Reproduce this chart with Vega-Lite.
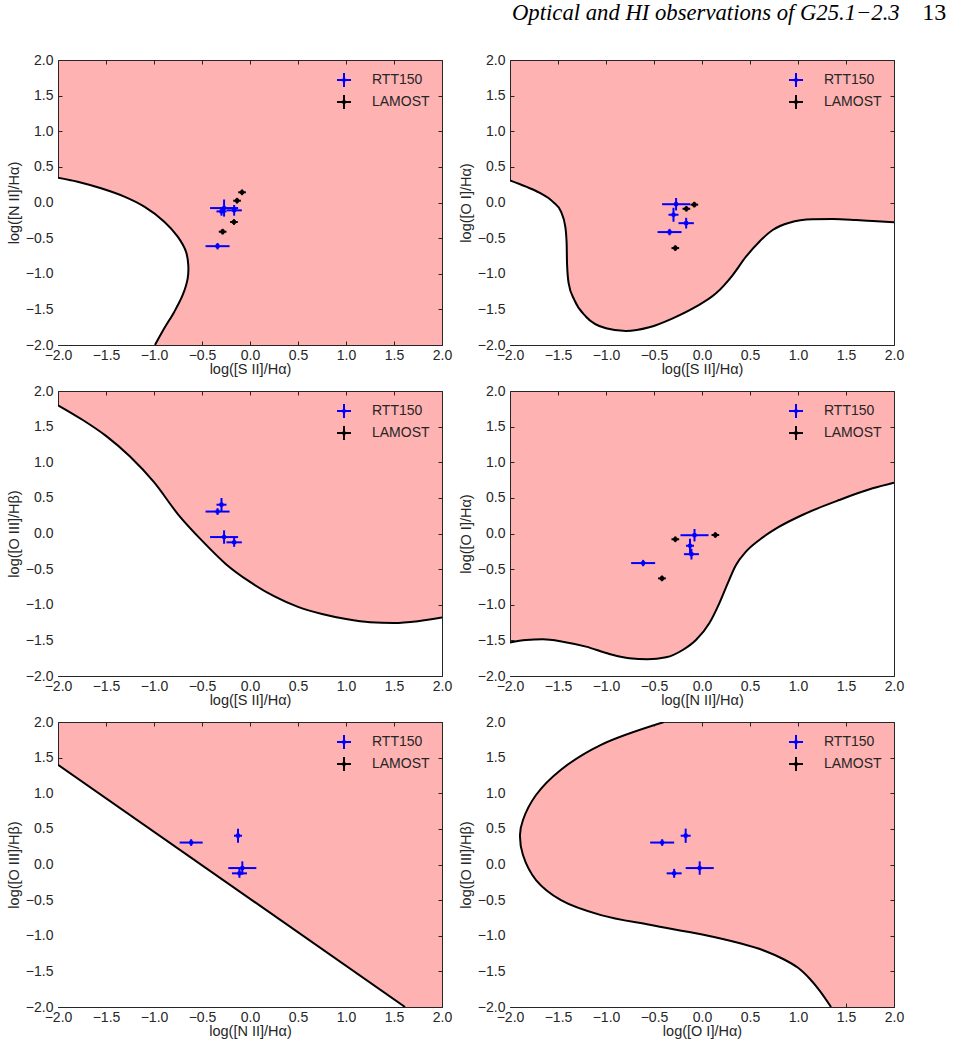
{
"$schema": "https://vega.github.io/schema/vega-lite/v6.json",
"padding": {"left": 5, "top": 0, "right": 5, "bottom": 5},
"title": {"text": "13", "anchor": "end", "font": "Liberation Serif", "fontSize": 24, "fontWeight": "normal", "fontStyle": "normal", "color": "black", "dx": 42, "dy": 23, "offset": 0},
"datasets": {
"pts": [
{"panel":1,"survey":"RTT150","x":-0.297,"y":-0.125,"xlo":-0.349,"xhi":-0.245,"ylo":-0.185,"yhi":-0.065},
{"panel":1,"survey":"RTT150","x":-0.338,"y":-0.613,"xlo":-0.463,"xhi":-0.213,"ylo":-0.658,"yhi":-0.568},
{"panel":1,"survey":"RTT150","x":-0.270,"y":-0.078,"xlo":-0.416,"xhi":-0.124,"ylo":-0.198,"yhi":0.042},
{"panel":1,"survey":"RTT150","x":-0.165,"y":-0.110,"xlo":-0.245,"xhi":-0.085,"ylo":-0.185,"yhi":-0.035},
{"panel":1,"survey":"LAMOST","x":-0.083,"y":0.143,"xlo":-0.123,"xhi":-0.043,"ylo":0.103,"yhi":0.183},
{"panel":1,"survey":"LAMOST","x":-0.135,"y":0.025,"xlo":-0.175,"xhi":-0.095,"ylo":-0.015,"yhi":0.065},
{"panel":1,"survey":"LAMOST","x":-0.167,"y":-0.274,"xlo":-0.207,"xhi":-0.127,"ylo":-0.314,"yhi":-0.234},
{"panel":1,"survey":"LAMOST","x":-0.285,"y":-0.410,"xlo":-0.325,"xhi":-0.245,"ylo":-0.450,"yhi":-0.370},
{"panel":2,"survey":"RTT150","x":-0.297,"y":-0.172,"xlo":-0.349,"xhi":-0.245,"ylo":-0.270,"yhi":-0.074},
{"panel":2,"survey":"RTT150","x":-0.338,"y":-0.415,"xlo":-0.463,"xhi":-0.213,"ylo":-0.460,"yhi":-0.370},
{"panel":2,"survey":"RTT150","x":-0.270,"y":-0.024,"xlo":-0.416,"xhi":-0.124,"ylo":-0.111,"yhi":0.063},
{"panel":2,"survey":"RTT150","x":-0.165,"y":-0.290,"xlo":-0.245,"xhi":-0.085,"ylo":-0.365,"yhi":-0.215},
{"panel":2,"survey":"LAMOST","x":-0.080,"y":-0.030,"xlo":-0.120,"xhi":-0.040,"ylo":-0.070,"yhi":0.010},
{"panel":2,"survey":"LAMOST","x":-0.163,"y":-0.088,"xlo":-0.203,"xhi":-0.123,"ylo":-0.128,"yhi":-0.048},
{"panel":2,"survey":"LAMOST","x":-0.278,"y":-0.640,"xlo":-0.318,"xhi":-0.238,"ylo":-0.680,"yhi":-0.600},
{"panel":3,"survey":"RTT150","x":-0.297,"y":0.404,"xlo":-0.349,"xhi":-0.245,"ylo":0.310,"yhi":0.498},
{"panel":3,"survey":"RTT150","x":-0.338,"y":0.308,"xlo":-0.463,"xhi":-0.213,"ylo":0.261,"yhi":0.355},
{"panel":3,"survey":"RTT150","x":-0.270,"y":-0.050,"xlo":-0.416,"xhi":-0.124,"ylo":-0.144,"yhi":0.044},
{"panel":3,"survey":"RTT150","x":-0.165,"y":-0.124,"xlo":-0.245,"xhi":-0.085,"ylo":-0.187,"yhi":-0.061},
{"panel":4,"survey":"RTT150","x":-0.125,"y":-0.172,"xlo":-0.167,"xhi":-0.083,"ylo":-0.272,"yhi":-0.072},
{"panel":4,"survey":"RTT150","x":-0.613,"y":-0.415,"xlo":-0.738,"xhi":-0.488,"ylo":-0.460,"yhi":-0.370},
{"panel":4,"survey":"RTT150","x":-0.078,"y":-0.024,"xlo":-0.224,"xhi":0.068,"ylo":-0.111,"yhi":0.063},
{"panel":4,"survey":"RTT150","x":-0.110,"y":-0.290,"xlo":-0.188,"xhi":-0.032,"ylo":-0.365,"yhi":-0.215},
{"panel":4,"survey":"LAMOST","x":0.139,"y":-0.021,"xlo":0.099,"xhi":0.179,"ylo":-0.061,"yhi":0.019},
{"panel":4,"survey":"LAMOST","x":-0.278,"y":-0.081,"xlo":-0.318,"xhi":-0.238,"ylo":-0.121,"yhi":-0.041},
{"panel":4,"survey":"LAMOST","x":-0.417,"y":-0.630,"xlo":-0.457,"xhi":-0.377,"ylo":-0.670,"yhi":-0.590},
{"panel":5,"survey":"RTT150","x":-0.125,"y":0.404,"xlo":-0.167,"xhi":-0.083,"ylo":0.306,"yhi":0.502},
{"panel":5,"survey":"RTT150","x":-0.613,"y":0.308,"xlo":-0.733,"xhi":-0.493,"ylo":0.261,"yhi":0.355},
{"panel":5,"survey":"RTT150","x":-0.080,"y":-0.050,"xlo":-0.226,"xhi":0.066,"ylo":-0.144,"yhi":0.044},
{"panel":5,"survey":"RTT150","x":-0.110,"y":-0.124,"xlo":-0.188,"xhi":-0.032,"ylo":-0.187,"yhi":-0.061},
{"panel":6,"survey":"RTT150","x":-0.170,"y":0.404,"xlo":-0.222,"xhi":-0.118,"ylo":0.304,"yhi":0.504},
{"panel":6,"survey":"RTT150","x":-0.415,"y":0.308,"xlo":-0.540,"xhi":-0.290,"ylo":0.261,"yhi":0.355},
{"panel":6,"survey":"RTT150","x":-0.024,"y":-0.050,"xlo":-0.170,"xhi":0.122,"ylo":-0.144,"yhi":0.044},
{"panel":6,"survey":"RTT150","x":-0.290,"y":-0.124,"xlo":-0.368,"xhi":-0.212,"ylo":-0.187,"yhi":-0.061}
],
"curves": [
{"panel":1,"i":0,"x":-2.0,"y":0.348},{"panel":1,"i":1,"x":-1.795,"y":0.292},{"panel":1,"i":2,"x":-1.552,"y":0.199},{"panel":1,"i":3,"x":-1.309,"y":0.082},{"panel":1,"i":4,"x":-1.101,"y":-0.059},{"panel":1,"i":5,"x":-0.893,"y":-0.269},{"panel":1,"i":6,"x":-0.753,"y":-0.48},{"panel":1,"i":7,"x":-0.667,"y":-0.69},{"panel":1,"i":8,"x":-0.643,"y":-0.877},{"panel":1,"i":9,"x":-0.649,"y":-1.064},{"panel":1,"i":10,"x":-0.701,"y":-1.298},{"panel":1,"i":11,"x":-0.788,"y":-1.532},{"panel":1,"i":12,"x":-0.893,"y":-1.766},{"panel":1,"i":13,"x":-0.99,"y":-2.0},
{"panel":2,"i":0,"x":-2.0,"y":0.31},{"panel":2,"i":1,"x":-1.833,"y":0.222},{"panel":2,"i":2,"x":-1.694,"y":0.138},{"panel":2,"i":3,"x":-1.555,"y":0.012},{"panel":2,"i":4,"x":-1.469,"y":-0.129},{"panel":2,"i":5,"x":-1.424,"y":-0.339},{"panel":2,"i":6,"x":-1.41,"y":-0.573},{"panel":2,"i":7,"x":-1.406,"y":-0.854},{"panel":2,"i":8,"x":-1.389,"y":-1.134},{"panel":2,"i":9,"x":-1.33,"y":-1.368},{"panel":2,"i":10,"x":-1.208,"y":-1.603},{"panel":2,"i":11,"x":-1.0,"y":-1.766},{"panel":2,"i":12,"x":-0.792,"y":-1.804},{"panel":2,"i":13,"x":-0.549,"y":-1.752},{"panel":2,"i":14,"x":-0.305,"y":-1.626},{"panel":2,"i":15,"x":-0.063,"y":-1.462},{"panel":2,"i":16,"x":0.146,"y":-1.275},{"panel":2,"i":17,"x":0.32,"y":-1.018},{"panel":2,"i":18,"x":0.458,"y":-0.761},{"panel":2,"i":19,"x":0.597,"y":-0.55},{"panel":2,"i":20,"x":0.736,"y":-0.386},{"panel":2,"i":21,"x":0.91,"y":-0.283},{"panel":2,"i":22,"x":1.153,"y":-0.236},{"panel":2,"i":23,"x":1.361,"y":-0.232},{"panel":2,"i":24,"x":1.604,"y":-0.246},{"panel":2,"i":25,"x":1.778,"y":-0.26},{"panel":2,"i":26,"x":2.0,"y":-0.278},
{"panel":3,"i":0,"x":-2.0,"y":1.8},{"panel":3,"i":1,"x":-1.75,"y":1.6},{"panel":3,"i":2,"x":-1.5,"y":1.37},{"panel":3,"i":3,"x":-1.25,"y":1.08},{"panel":3,"i":4,"x":-1.0,"y":0.72},{"panel":3,"i":5,"x":-0.75,"y":0.27},{"panel":3,"i":6,"x":-0.5,"y":-0.1},{"panel":3,"i":7,"x":-0.25,"y":-0.43},{"panel":3,"i":8,"x":0.0,"y":-0.68},{"panel":3,"i":9,"x":0.25,"y":-0.88},{"panel":3,"i":10,"x":0.5,"y":-1.03},{"panel":3,"i":11,"x":0.75,"y":-1.13},{"panel":3,"i":12,"x":1.0,"y":-1.2},{"panel":3,"i":13,"x":1.25,"y":-1.245},{"panel":3,"i":14,"x":1.5,"y":-1.255},{"panel":3,"i":15,"x":1.75,"y":-1.23},{"panel":3,"i":16,"x":2.0,"y":-1.18},
{"panel":4,"i":0,"x":-2.0,"y":-1.53},{"panel":4,"i":1,"x":-1.833,"y":-1.495},{"panel":4,"i":2,"x":-1.66,"y":-1.485},{"panel":4,"i":3,"x":-1.451,"y":-1.518},{"panel":4,"i":4,"x":-1.208,"y":-1.588},{"panel":4,"i":5,"x":-0.965,"y":-1.691},{"panel":4,"i":6,"x":-0.757,"y":-1.752},{"panel":4,"i":7,"x":-0.566,"y":-1.766},{"panel":4,"i":8,"x":-0.375,"y":-1.738},{"panel":4,"i":9,"x":-0.201,"y":-1.635},{"panel":4,"i":10,"x":-0.063,"y":-1.495},{"panel":4,"i":11,"x":0.076,"y":-1.26},{"panel":4,"i":12,"x":0.18,"y":-0.98},{"panel":4,"i":13,"x":0.268,"y":-0.699},{"panel":4,"i":14,"x":0.354,"y":-0.442},{"panel":4,"i":15,"x":0.458,"y":-0.255},{"panel":4,"i":16,"x":0.597,"y":-0.091},{"panel":4,"i":17,"x":0.805,"y":0.095},{"panel":4,"i":18,"x":1.083,"y":0.283},{"panel":4,"i":19,"x":1.43,"y":0.47},{"panel":4,"i":20,"x":1.778,"y":0.634},{"panel":4,"i":21,"x":2.0,"y":0.713},
{"panel":5,"i":0,"x":-2.0,"y":1.4},{"panel":5,"i":1,"x":1.615,"y":-2.0},
{"panel":6,"i":0,"x":-0.396,"y":2.0},{"panel":6,"i":1,"x":-1.052,"y":1.68},{"panel":6,"i":2,"x":-1.469,"y":1.33},{"panel":6,"i":3,"x":-1.729,"y":0.975},{"panel":6,"i":4,"x":-1.865,"y":0.625},{"panel":6,"i":5,"x":-1.896,"y":0.414},{"panel":6,"i":6,"x":-1.865,"y":0.133},{"panel":6,"i":7,"x":-1.729,"y":-0.218},{"panel":6,"i":8,"x":-1.469,"y":-0.5},{"panel":6,"i":9,"x":-1.052,"y":-0.71},{"panel":6,"i":10,"x":-0.531,"y":-0.85},{"panel":6,"i":11,"x":-0.01,"y":-0.98},{"panel":6,"i":12,"x":0.406,"y":-1.11},{"panel":6,"i":13,"x":0.65,"y":-1.21},{"panel":6,"i":14,"x":0.85,"y":-1.33},{"panel":6,"i":15,"x":1.0,"y":-1.45},{"panel":6,"i":16,"x":1.12,"y":-1.6},{"panel":6,"i":17,"x":1.225,"y":-1.77},{"panel":6,"i":18,"x":1.344,"y":-2.0}
]
},
"columns": 2,
"spacing": {"row": 46, "column": 68},
"bounds": "flush",
"resolve": {"scale": {"color": "independent"}, "legend": {"color": "independent"}},
"concat": [
{"width": 384, "height": 285,
 "resolve": {"axis": {"x": "independent", "y": "independent"}},
 "layer": [
  {"data": {"name": "curves"}, "transform": [{"filter": "datum.panel == 1"}], "mark": {"type": "area", "orient": "horizontal", "color": "white", "opacity": 1, "interpolate": "catmull-rom", "clip": true},
   "encoding": {"y": {"field": "y", "type": "quantitative", "scale": {"domain": [-2, 2], "nice": false, "zero": false}, "axis": {"orient": "left", "title": "log([N II]/Hα)", "values": [-2,-1.5,-1,-0.5,0,0.5,1,1.5,2], "format": ".1f"}},
    "x": {"field": "x", "type": "quantitative", "scale": {"domain": [-2, 2], "nice": false, "zero": false}, "axis": {"orient": "bottom", "title": "log([S II]/Hα)", "values": [-2,-1.5,-1,-0.5,0,0.5,1,1.5,2], "format": ".1f"}},
    "x2": {"datum": -2}}},
  {"data": {"name": "curves"}, "transform": [{"filter": "datum.panel == 1"}], "mark": {"type": "line", "color": "black", "strokeWidth": 2, "interpolate": "catmull-rom", "clip": true},
   "encoding": {"x": {"field": "x", "type": "quantitative", "axis": null}, "y": {"field": "y", "type": "quantitative", "axis": null}, "order": {"field": "i", "type": "quantitative"}}},
  {"data": {"name": "pts"}, "transform": [{"filter": "datum.panel == 1"}], "mark": {"type": "rule", "strokeWidth": 2},
   "encoding": {"x": {"field": "xlo", "type": "quantitative", "axis": null}, "x2": {"field": "xhi"}, "y": {"field": "y", "type": "quantitative", "axis": null},
    "color": {"field": "survey", "type": "nominal", "scale": {"domain": ["RTT150", "LAMOST"], "range": ["#0000ff", "#000000"]}, "legend": {"title": null}}}},
  {"data": {"name": "pts"}, "transform": [{"filter": "datum.panel == 1"}], "mark": {"type": "rule", "strokeWidth": 2},
   "encoding": {"x": {"field": "x", "type": "quantitative", "axis": null}, "y": {"field": "ylo", "type": "quantitative", "axis": null}, "y2": {"field": "yhi"},
    "color": {"field": "survey", "type": "nominal", "scale": {"domain": ["RTT150", "LAMOST"], "range": ["#0000ff", "#000000"]}, "legend": null}}},
  {"data": {"name": "pts"}, "transform": [{"filter": "datum.panel == 1"}], "mark": {"type": "point", "filled": true, "size": 22, "opacity": 1},
   "encoding": {"x": {"field": "x", "type": "quantitative", "axis": {"orient": "top", "labels": false, "title": null, "values": [-2,-1.5,-1,-0.5,0,0.5,1,1.5,2]}}, "y": {"field": "y", "type": "quantitative", "axis": {"orient": "right", "labels": false, "title": null, "values": [-2,-1.5,-1,-0.5,0,0.5,1,1.5,2]}},
    "color": {"field": "survey", "type": "nominal", "scale": {"domain": ["RTT150", "LAMOST"], "range": ["#0000ff", "#000000"]}, "legend": null}}}
 ]},
{"width": 384, "height": 285,
 "title": {"text": "Optical and HI observations of G25.1−2.3", "anchor": "end", "font": "Liberation Serif", "fontSize": 22.7, "fontStyle": "italic", "fontWeight": "normal", "color": "black", "offset": 28, "dx": -4},
 "resolve": {"axis": {"x": "independent", "y": "independent"}},
 "layer": [
  {"data": {"name": "curves"}, "transform": [{"filter": "datum.panel == 2"}], "mark": {"type": "area", "orient": "vertical", "color": "white", "opacity": 1, "interpolate": "monotone", "clip": true},
   "encoding": {"x": {"field": "x", "type": "quantitative", "scale": {"domain": [-2, 2], "nice": false, "zero": false}, "axis": {"orient": "bottom", "title": "log([S II]/Hα)", "values": [-2,-1.5,-1,-0.5,0,0.5,1,1.5,2], "format": ".1f"}},
    "y": {"field": "y", "type": "quantitative", "scale": {"domain": [-2, 2], "nice": false, "zero": false}, "axis": {"orient": "left", "title": "log([O I]/Hα)", "values": [-2,-1.5,-1,-0.5,0,0.5,1,1.5,2], "format": ".1f"}},
    "y2": {"datum": -2}}},
  {"data": {"name": "curves"}, "transform": [{"filter": "datum.panel == 2"}], "mark": {"type": "line", "color": "black", "strokeWidth": 2, "interpolate": "monotone", "clip": true},
   "encoding": {"x": {"field": "x", "type": "quantitative", "axis": null}, "y": {"field": "y", "type": "quantitative", "axis": null}, "order": {"field": "i", "type": "quantitative"}}},
  {"data": {"name": "pts"}, "transform": [{"filter": "datum.panel == 2"}], "mark": {"type": "rule", "strokeWidth": 2},
   "encoding": {"x": {"field": "xlo", "type": "quantitative", "axis": null}, "x2": {"field": "xhi"}, "y": {"field": "y", "type": "quantitative", "axis": null},
    "color": {"field": "survey", "type": "nominal", "scale": {"domain": ["RTT150", "LAMOST"], "range": ["#0000ff", "#000000"]}, "legend": {"title": null}}}},
  {"data": {"name": "pts"}, "transform": [{"filter": "datum.panel == 2"}], "mark": {"type": "rule", "strokeWidth": 2},
   "encoding": {"x": {"field": "x", "type": "quantitative", "axis": null}, "y": {"field": "ylo", "type": "quantitative", "axis": null}, "y2": {"field": "yhi"},
    "color": {"field": "survey", "type": "nominal", "scale": {"domain": ["RTT150", "LAMOST"], "range": ["#0000ff", "#000000"]}, "legend": null}}},
  {"data": {"name": "pts"}, "transform": [{"filter": "datum.panel == 2"}], "mark": {"type": "point", "filled": true, "size": 22, "opacity": 1},
   "encoding": {"x": {"field": "x", "type": "quantitative", "axis": {"orient": "top", "labels": false, "title": null, "values": [-2,-1.5,-1,-0.5,0,0.5,1,1.5,2]}}, "y": {"field": "y", "type": "quantitative", "axis": {"orient": "right", "labels": false, "title": null, "values": [-2,-1.5,-1,-0.5,0,0.5,1,1.5,2]}},
    "color": {"field": "survey", "type": "nominal", "scale": {"domain": ["RTT150", "LAMOST"], "range": ["#0000ff", "#000000"]}, "legend": null}}}
 ]},
{"width": 384, "height": 285,
 "resolve": {"axis": {"x": "independent", "y": "independent"}},
 "layer": [
  {"data": {"name": "curves"}, "transform": [{"filter": "datum.panel == 3"}], "mark": {"type": "area", "orient": "vertical", "color": "white", "opacity": 1, "interpolate": "monotone", "clip": true},
   "encoding": {"x": {"field": "x", "type": "quantitative", "scale": {"domain": [-2, 2], "nice": false, "zero": false}, "axis": {"orient": "bottom", "title": "log([S II]/Hα)", "values": [-2,-1.5,-1,-0.5,0,0.5,1,1.5,2], "format": ".1f"}},
    "y": {"field": "y", "type": "quantitative", "scale": {"domain": [-2, 2], "nice": false, "zero": false}, "axis": {"orient": "left", "title": "log([O III]/Hβ)", "values": [-2,-1.5,-1,-0.5,0,0.5,1,1.5,2], "format": ".1f"}},
    "y2": {"datum": -2}}},
  {"data": {"name": "curves"}, "transform": [{"filter": "datum.panel == 3"}], "mark": {"type": "line", "color": "black", "strokeWidth": 2, "interpolate": "monotone", "clip": true},
   "encoding": {"x": {"field": "x", "type": "quantitative", "axis": null}, "y": {"field": "y", "type": "quantitative", "axis": null}, "order": {"field": "i", "type": "quantitative"}}},
  {"data": {"name": "pts"}, "transform": [{"filter": "datum.panel == 3"}], "mark": {"type": "rule", "strokeWidth": 2},
   "encoding": {"x": {"field": "xlo", "type": "quantitative", "axis": null}, "x2": {"field": "xhi"}, "y": {"field": "y", "type": "quantitative", "axis": null},
    "color": {"field": "survey", "type": "nominal", "scale": {"domain": ["RTT150", "LAMOST"], "range": ["#0000ff", "#000000"]}, "legend": {"title": null}}}},
  {"data": {"name": "pts"}, "transform": [{"filter": "datum.panel == 3"}], "mark": {"type": "rule", "strokeWidth": 2},
   "encoding": {"x": {"field": "x", "type": "quantitative", "axis": null}, "y": {"field": "ylo", "type": "quantitative", "axis": null}, "y2": {"field": "yhi"},
    "color": {"field": "survey", "type": "nominal", "scale": {"domain": ["RTT150", "LAMOST"], "range": ["#0000ff", "#000000"]}, "legend": null}}},
  {"data": {"name": "pts"}, "transform": [{"filter": "datum.panel == 3"}], "mark": {"type": "point", "filled": true, "size": 22, "opacity": 1},
   "encoding": {"x": {"field": "x", "type": "quantitative", "axis": {"orient": "top", "labels": false, "title": null, "values": [-2,-1.5,-1,-0.5,0,0.5,1,1.5,2]}}, "y": {"field": "y", "type": "quantitative", "axis": {"orient": "right", "labels": false, "title": null, "values": [-2,-1.5,-1,-0.5,0,0.5,1,1.5,2]}},
    "color": {"field": "survey", "type": "nominal", "scale": {"domain": ["RTT150", "LAMOST"], "range": ["#0000ff", "#000000"]}, "legend": null}}}
 ]},
{"width": 384, "height": 285,
 "resolve": {"axis": {"x": "independent", "y": "independent"}},
 "layer": [
  {"data": {"name": "curves"}, "transform": [{"filter": "datum.panel == 4"}], "mark": {"type": "area", "orient": "vertical", "color": "white", "opacity": 1, "interpolate": "monotone", "clip": true},
   "encoding": {"x": {"field": "x", "type": "quantitative", "scale": {"domain": [-2, 2], "nice": false, "zero": false}, "axis": {"orient": "bottom", "title": "log([N II]/Hα)", "values": [-2,-1.5,-1,-0.5,0,0.5,1,1.5,2], "format": ".1f"}},
    "y": {"field": "y", "type": "quantitative", "scale": {"domain": [-2, 2], "nice": false, "zero": false}, "axis": {"orient": "left", "title": "log([O I]/Hα)", "values": [-2,-1.5,-1,-0.5,0,0.5,1,1.5,2], "format": ".1f"}},
    "y2": {"datum": -2}}},
  {"data": {"name": "curves"}, "transform": [{"filter": "datum.panel == 4"}], "mark": {"type": "line", "color": "black", "strokeWidth": 2, "interpolate": "monotone", "clip": true},
   "encoding": {"x": {"field": "x", "type": "quantitative", "axis": null}, "y": {"field": "y", "type": "quantitative", "axis": null}, "order": {"field": "i", "type": "quantitative"}}},
  {"data": {"name": "pts"}, "transform": [{"filter": "datum.panel == 4"}], "mark": {"type": "rule", "strokeWidth": 2},
   "encoding": {"x": {"field": "xlo", "type": "quantitative", "axis": null}, "x2": {"field": "xhi"}, "y": {"field": "y", "type": "quantitative", "axis": null},
    "color": {"field": "survey", "type": "nominal", "scale": {"domain": ["RTT150", "LAMOST"], "range": ["#0000ff", "#000000"]}, "legend": {"title": null}}}},
  {"data": {"name": "pts"}, "transform": [{"filter": "datum.panel == 4"}], "mark": {"type": "rule", "strokeWidth": 2},
   "encoding": {"x": {"field": "x", "type": "quantitative", "axis": null}, "y": {"field": "ylo", "type": "quantitative", "axis": null}, "y2": {"field": "yhi"},
    "color": {"field": "survey", "type": "nominal", "scale": {"domain": ["RTT150", "LAMOST"], "range": ["#0000ff", "#000000"]}, "legend": null}}},
  {"data": {"name": "pts"}, "transform": [{"filter": "datum.panel == 4"}], "mark": {"type": "point", "filled": true, "size": 22, "opacity": 1},
   "encoding": {"x": {"field": "x", "type": "quantitative", "axis": {"orient": "top", "labels": false, "title": null, "values": [-2,-1.5,-1,-0.5,0,0.5,1,1.5,2]}}, "y": {"field": "y", "type": "quantitative", "axis": {"orient": "right", "labels": false, "title": null, "values": [-2,-1.5,-1,-0.5,0,0.5,1,1.5,2]}},
    "color": {"field": "survey", "type": "nominal", "scale": {"domain": ["RTT150", "LAMOST"], "range": ["#0000ff", "#000000"]}, "legend": null}}}
 ]},
{"width": 384, "height": 285,
 "resolve": {"axis": {"x": "independent", "y": "independent"}},
 "layer": [
  {"data": {"name": "curves"}, "transform": [{"filter": "datum.panel == 5"}], "mark": {"type": "area", "orient": "vertical", "color": "white", "opacity": 1, "interpolate": "linear", "clip": true},
   "encoding": {"x": {"field": "x", "type": "quantitative", "scale": {"domain": [-2, 2], "nice": false, "zero": false}, "axis": {"orient": "bottom", "title": "log([N II]/Hα)", "values": [-2,-1.5,-1,-0.5,0,0.5,1,1.5,2], "format": ".1f"}},
    "y": {"field": "y", "type": "quantitative", "scale": {"domain": [-2, 2], "nice": false, "zero": false}, "axis": {"orient": "left", "title": "log([O III]/Hβ)", "values": [-2,-1.5,-1,-0.5,0,0.5,1,1.5,2], "format": ".1f"}},
    "y2": {"datum": -2}}},
  {"data": {"name": "curves"}, "transform": [{"filter": "datum.panel == 5"}], "mark": {"type": "line", "color": "black", "strokeWidth": 2, "interpolate": "linear", "clip": true},
   "encoding": {"x": {"field": "x", "type": "quantitative", "axis": null}, "y": {"field": "y", "type": "quantitative", "axis": null}, "order": {"field": "i", "type": "quantitative"}}},
  {"data": {"name": "pts"}, "transform": [{"filter": "datum.panel == 5"}], "mark": {"type": "rule", "strokeWidth": 2},
   "encoding": {"x": {"field": "xlo", "type": "quantitative", "axis": null}, "x2": {"field": "xhi"}, "y": {"field": "y", "type": "quantitative", "axis": null},
    "color": {"field": "survey", "type": "nominal", "scale": {"domain": ["RTT150", "LAMOST"], "range": ["#0000ff", "#000000"]}, "legend": {"title": null}}}},
  {"data": {"name": "pts"}, "transform": [{"filter": "datum.panel == 5"}], "mark": {"type": "rule", "strokeWidth": 2},
   "encoding": {"x": {"field": "x", "type": "quantitative", "axis": null}, "y": {"field": "ylo", "type": "quantitative", "axis": null}, "y2": {"field": "yhi"},
    "color": {"field": "survey", "type": "nominal", "scale": {"domain": ["RTT150", "LAMOST"], "range": ["#0000ff", "#000000"]}, "legend": null}}},
  {"data": {"name": "pts"}, "transform": [{"filter": "datum.panel == 5"}], "mark": {"type": "point", "filled": true, "size": 22, "opacity": 1},
   "encoding": {"x": {"field": "x", "type": "quantitative", "axis": {"orient": "top", "labels": false, "title": null, "values": [-2,-1.5,-1,-0.5,0,0.5,1,1.5,2]}}, "y": {"field": "y", "type": "quantitative", "axis": {"orient": "right", "labels": false, "title": null, "values": [-2,-1.5,-1,-0.5,0,0.5,1,1.5,2]}},
    "color": {"field": "survey", "type": "nominal", "scale": {"domain": ["RTT150", "LAMOST"], "range": ["#0000ff", "#000000"]}, "legend": null}}}
 ]},
{"width": 384, "height": 285,
 "resolve": {"axis": {"x": "independent", "y": "independent"}},
 "layer": [
  {"data": {"name": "curves"}, "transform": [{"filter": "datum.panel == 6"}], "mark": {"type": "area", "orient": "horizontal", "color": "white", "opacity": 1, "interpolate": "catmull-rom", "clip": true},
   "encoding": {"y": {"field": "y", "type": "quantitative", "scale": {"domain": [-2, 2], "nice": false, "zero": false}, "axis": {"orient": "left", "title": "log([O III]/Hβ)", "values": [-2,-1.5,-1,-0.5,0,0.5,1,1.5,2], "format": ".1f"}},
    "x": {"field": "x", "type": "quantitative", "scale": {"domain": [-2, 2], "nice": false, "zero": false}, "axis": {"orient": "bottom", "title": "log([O I]/Hα)", "values": [-2,-1.5,-1,-0.5,0,0.5,1,1.5,2], "format": ".1f"}},
    "x2": {"datum": -2}}},
  {"data": {"name": "curves"}, "transform": [{"filter": "datum.panel == 6"}], "mark": {"type": "line", "color": "black", "strokeWidth": 2, "interpolate": "catmull-rom", "clip": true},
   "encoding": {"x": {"field": "x", "type": "quantitative", "axis": null}, "y": {"field": "y", "type": "quantitative", "axis": null}, "order": {"field": "i", "type": "quantitative"}}},
  {"data": {"name": "pts"}, "transform": [{"filter": "datum.panel == 6"}], "mark": {"type": "rule", "strokeWidth": 2},
   "encoding": {"x": {"field": "xlo", "type": "quantitative", "axis": null}, "x2": {"field": "xhi"}, "y": {"field": "y", "type": "quantitative", "axis": null},
    "color": {"field": "survey", "type": "nominal", "scale": {"domain": ["RTT150", "LAMOST"], "range": ["#0000ff", "#000000"]}, "legend": {"title": null}}}},
  {"data": {"name": "pts"}, "transform": [{"filter": "datum.panel == 6"}], "mark": {"type": "rule", "strokeWidth": 2},
   "encoding": {"x": {"field": "x", "type": "quantitative", "axis": null}, "y": {"field": "ylo", "type": "quantitative", "axis": null}, "y2": {"field": "yhi"},
    "color": {"field": "survey", "type": "nominal", "scale": {"domain": ["RTT150", "LAMOST"], "range": ["#0000ff", "#000000"]}, "legend": null}}},
  {"data": {"name": "pts"}, "transform": [{"filter": "datum.panel == 6"}], "mark": {"type": "point", "filled": true, "size": 22, "opacity": 1},
   "encoding": {"x": {"field": "x", "type": "quantitative", "axis": {"orient": "top", "labels": false, "title": null, "values": [-2,-1.5,-1,-0.5,0,0.5,1,1.5,2]}}, "y": {"field": "y", "type": "quantitative", "axis": {"orient": "right", "labels": false, "title": null, "values": [-2,-1.5,-1,-0.5,0,0.5,1,1.5,2]}},
    "color": {"field": "survey", "type": "nominal", "scale": {"domain": ["RTT150", "LAMOST"], "range": ["#0000ff", "#000000"]}, "legend": null}}}
 ]}
],
"config": {
  "font": "Liberation Sans",
  "view": {"stroke": "#262626", "strokeWidth": 1, "fill": "#ffb2b2"},
  "axis": {"domain": false, "grid": false, "tickSize": -4, "tickColor": "#262626", "tickWidth": 1, "labelFontSize": 14, "labelColor": "#262626", "labelFont": "Liberation Sans", "titleFont": "Liberation Sans", "titleFontSize": 14.5, "titleFontWeight": "normal", "titleColor": "#262626", "labelFlush": false, "labelOverlap": false},
  "axisX": {"labelPadding": 7, "titlePadding": 0},
  "axisY": {"labelPadding": 9, "titlePadding": 4},
  "legend": {"orient": "top-right", "offset": 12, "padding": 0, "symbolType": "M-1,0H1M0,-1V1M-0.16,0A0.16,0.16,0,1,0,0.16,0A0.16,0.16,0,1,0,-0.16,0", "symbolSize": 196, "symbolStrokeWidth": 2, "labelFontSize": 14, "labelColor": "#262626", "labelFont": "Liberation Sans", "labelOffset": 20, "rowPadding": 0}
}
}
